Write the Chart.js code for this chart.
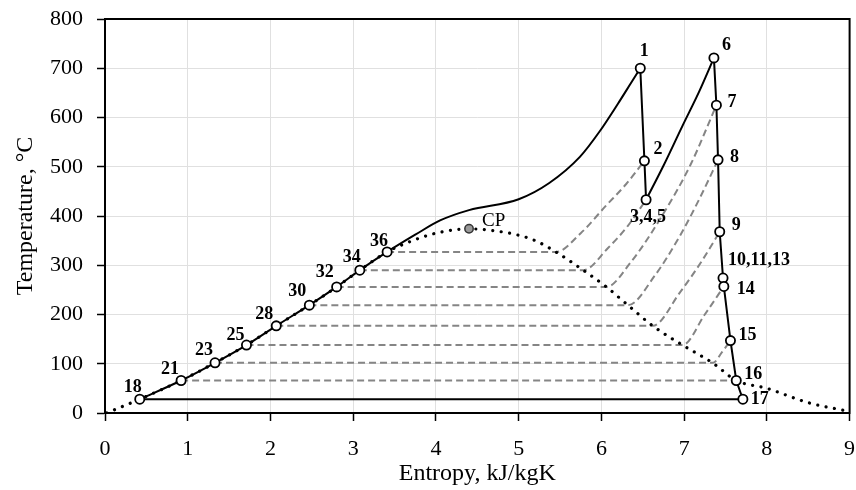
<!DOCTYPE html>
<html>
<head>
<meta charset="utf-8">
<script src="https://cdn.jsdelivr.net/npm/chart.js@4.4.1/dist/chart.umd.min.js"></script>
<style>
  html, body { margin: 0; padding: 0; background: #fff; }
  #wrap { width: 856px; height: 490px; }
</style>
</head>
<body>
<div id="wrap"><canvas id="tsChart"></canvas></div>
<script>
// cycle state points: entropy (kJ/kgK) and temperature (°C)
const pointNames = ['1', '2', '3,4,5', '6', '7', '8', '9', '10,11,13', '14', '15', '16', '17',
                    '18', '21', '23', '25', '28', '30', '32', '34', '36'];
const pointS = [6.47, 6.52, 6.54, 7.36, 7.39, 7.41, 7.43, 7.47, 7.48, 7.56, 7.63, 7.71,
                0.42, 0.92, 1.33, 1.71, 2.07, 2.47, 2.80, 3.08, 3.41];
const pointT = [700, 512, 433, 721, 625, 514, 368, 274, 257, 147, 66, 28,
                28, 66, 102, 138, 177, 219, 256, 290, 327];

// boiler line between 36 and 1
const boilerS = [3.75, 4.05, 4.40, 5.00, 5.37, 5.74, 5.98, 6.20, 6.35];
const boilerT = [362, 391, 412, 434, 467, 520, 572, 628, 668];

// reheat line between 3,4,5 and 6
const reheatS = [6.75, 6.98, 7.18];
const reheatT = [502, 583, 652];

// saturation dome
const domeS = [0.02, 0.42, 0.92, 1.33, 1.71, 2.07, 2.47, 2.80, 3.08, 3.41, 3.75, 4.05, 4.40,
               4.70, 4.95, 5.20, 5.45, 5.78, 6.06, 6.32, 6.62, 6.98, 7.35, 7.63, 8.00, 8.50, 8.97];
const domeT = [0, 28, 66, 102, 138, 177, 219, 256, 290, 327, 352, 367, 374,
               370, 363, 350, 327, 290, 256, 219, 177, 138, 101, 66, 50, 21, 4];

// critical point
const cpS = [4.40];
const cpT = [374];

// extraction isobars: liquid point -> dome -> extraction state
const bleedS = [
  [3.41, 5.45, 5.75, 6.05, 6.30, 6.52],
  [3.08, 5.78, 6.08, 6.32, 6.54],
  [2.80, 6.06, 6.35, 6.75, 7.08, 7.39],
  [2.47, 6.32, 6.65, 6.95, 7.20, 7.41],
  [2.07, 6.62, 6.95, 7.20, 7.43],
  [1.71, 6.98, 7.25, 7.48],
  [1.33, 7.35, 7.46, 7.56],
  [0.92, 7.63]
];
const bleedT = [
  [327, 327, 365, 420, 465, 512],
  [290, 290, 335, 380, 433],
  [256, 256, 305, 405, 505, 625],
  [219, 219, 280, 360, 440, 514],
  [177, 177, 245, 305, 368],
  [138, 138, 200, 257],
  [102, 102, 124, 147],
  [66, 66]
];

const xTicks = [0, 1, 2, 3, 4, 5, 6, 7, 8, 9];
const yTicks = [0, 100, 200, 300, 400, 500, 600, 700, 800];

// label placement next to each state point: [dx, dy, align]
const labelPos = {
  '1': [4, -17, 'center'], '2': [9, -11, 'left'], '3,4,5': [2, 18, 'center'],
  '6': [8, -13, 'left'], '7': [11, -3, 'left'], '8': [12, -3, 'left'], '9': [12, -6, 'left'],
  '10,11,13': [5, -18, 'left'], '14': [13, 3, 'left'], '15': [8, -5, 'left'],
  '16': [8, -6, 'left'], '17': [8, 0, 'left'],
  '18': [-7, -12, 'center'], '21': [-11, -11, 'center'], '23': [-11, -12, 'center'],
  '25': [-11, -10, 'center'], '28': [-12, -11, 'center'], '30': [-12, -14, 'center'],
  '32': [-12, -15, 'center'], '34': [-8, -13, 'center'], '36': [-8, -11, 'center']
};

const FONT = "'Liberation Serif', 'Times New Roman', serif";

function pt(name) {
  const i = pointNames.indexOf(name);
  return { x: pointS[i], y: pointT[i] };
}
function xy(sArr, tArr) {
  return sArr.map((s, i) => ({ x: s, y: tArr[i] }));
}
function path(names) {
  return names.map(pt);
}

const solid = (data, smooth) => ({
  data: data,
  showLine: true,
  borderColor: '#000',
  borderWidth: 2,
  pointRadius: 0,
  cubicInterpolationMode: smooth ? 'monotone' : 'default',
  tension: 0,
  order: 1
});

const heating = path(['18', '21', '23', '25', '28', '30', '32', '34', '36'])
  .concat(xy(boilerS, boilerT), [pt('1')]);
const reheat = [pt('3,4,5')].concat(xy(reheatS, reheatT), [pt('6')]);

const datasets = [
  solid(heating, true),
  solid(path(['1', '2', '3,4,5']), false),
  solid(reheat, true),
  solid(path(['6', '7', '8', '9', '10,11,13', '14', '15', '16', '17']), false),
  solid(path(['17', '18']), false),
  {
    // saturation dome
    data: xy(domeS, domeT),
    showLine: true,
    borderColor: '#000',
    borderWidth: 3.2,
    borderDash: [0.01, 8.5],
    borderCapStyle: 'round',
    pointRadius: 0,
    cubicInterpolationMode: 'monotone',
    order: 2
  }
];

bleedS.forEach((s, k) => {
  datasets.push({
    data: xy(s, bleedT[k]),
    showLine: true,
    borderColor: '#858585',
    borderWidth: 2,
    borderDash: [7, 4],
    pointRadius: 0,
    cubicInterpolationMode: 'monotone',
    order: 3
  });
});

// markers on state points
datasets.push({
  data: pointNames.map(pt),
  showLine: false,
  pointRadius: 4.6,
  pointBackgroundColor: '#fff',
  pointBorderColor: '#000',
  pointBorderWidth: 1.8,
  order: 0
});
datasets.push({
  data: xy(cpS, cpT),
  showLine: false,
  pointRadius: 4.2,
  pointBackgroundColor: '#999',
  pointBorderColor: '#333',
  pointBorderWidth: 1.5,
  order: 0
});

const framePlugin = {
  id: 'frame',
  afterDraw(chart) {
    const { ctx, chartArea: a } = chart;
    ctx.save();
    ctx.strokeStyle = '#000';
    ctx.lineWidth = 2;
    ctx.strokeRect(a.left, a.top, a.right - a.left, a.bottom - a.top);
    ctx.restore();
  }
};

const labelPlugin = {
  id: 'pointLabels',
  afterDatasetsDraw(chart) {
    const { ctx, scales } = chart;
    ctx.save();
    ctx.fillStyle = '#000';
    ctx.textBaseline = 'middle';
    ctx.font = "bold 18px " + FONT;
    pointNames.forEach((name, i) => {
      const p = labelPos[name];
      const px = scales.x.getPixelForValue(pointS[i]);
      const py = scales.y.getPixelForValue(pointT[i]);
      ctx.textAlign = p[2];
      ctx.fillText(name, px + p[0], py + p[1]);
    });
    ctx.font = "19px " + FONT;
    ctx.textAlign = 'left';
    ctx.fillText('CP', scales.x.getPixelForValue(cpS[0]) + 13, scales.y.getPixelForValue(cpT[0]) - 8);
    ctx.restore();
  }
};

new Chart(document.getElementById('tsChart'), {
  type: 'scatter',
  data: { datasets: datasets },
  options: {
    responsive: true,
    maintainAspectRatio: false,
    animation: false,
    layout: { padding: { top: 19, right: 6, left: 0, bottom: 0 } },
    plugins: { legend: { display: false }, tooltip: { enabled: false } },
    scales: {
      x: {
        type: 'linear',
        min: 0,
        max: 9,
        afterBuildTicks: s => { s.ticks = xTicks.map(v => ({ value: v })); },
        afterFit: s => { s.height = 77; s.paddingLeft = 0; s.paddingRight = 0; },
        ticks: { color: '#000', font: { family: FONT, size: 22 }, padding: 15 },
        grid: { color: '#e0e0e0', lineWidth: 1, tickColor: '#000', tickLength: 8, tickWidth: 1.5 },
        border: { color: '#000', width: 2 },
        title: { display: true, text: 'Entropy, kJ/kgK', color: '#000',
                 font: { family: FONT, size: 24 }, padding: { top: 0, bottom: 2 } }
      },
      y: {
        type: 'linear',
        min: 0,
        max: 800,
        afterBuildTicks: s => { s.ticks = yTicks.map(v => ({ value: v })); },
        afterFit: s => { s.width = 105; s.paddingTop = 0; s.paddingBottom = 0; },
        ticks: { color: '#000', font: { family: FONT, size: 22 }, padding: 14 },
        grid: { color: '#e0e0e0', lineWidth: 1, tickColor: '#000', tickLength: 8, tickWidth: 1.5 },
        border: { color: '#000', width: 2 },
        title: { display: true, text: 'Temperature, °C', color: '#000',
                 font: { family: FONT, size: 24 }, padding: { top: 11, bottom: 0 } }
      }
    }
  },
  plugins: [framePlugin, labelPlugin]
});
</script>
</body>
</html>
